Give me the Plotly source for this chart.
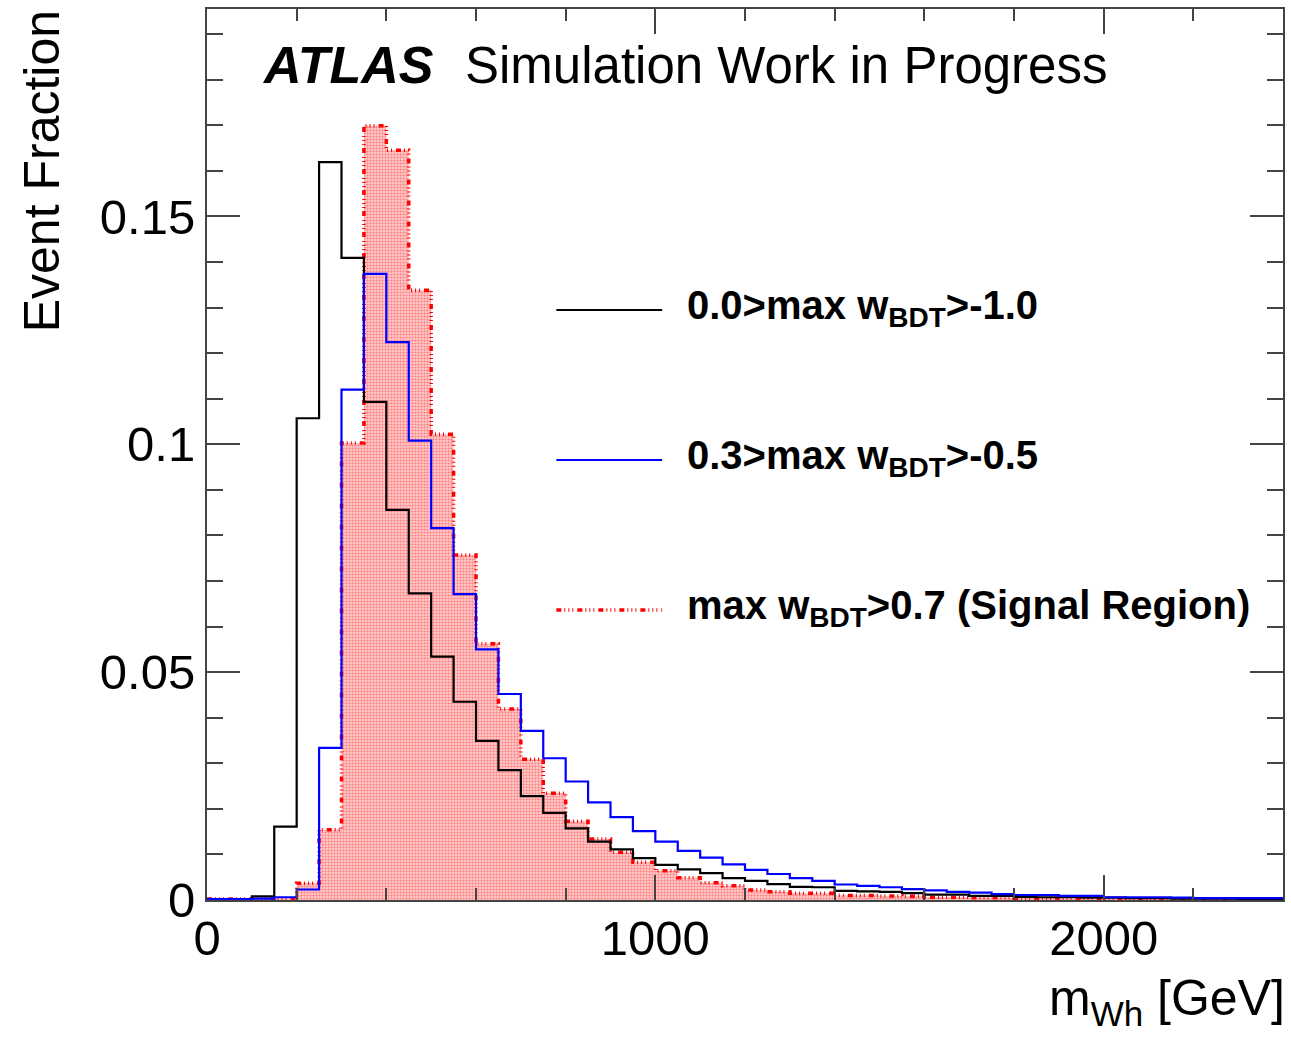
import plotly.graph_objects as go

# ---------------- data ----------------
bin_edges = [i * 50 for i in range(49)]  # 0 .. 2400 GeV, 50 GeV bins

black_vals = [0.0001, 0.0001, 0.0008, 0.0161, 0.1057, 0.1619, 0.1409, 0.1093,
              0.0856, 0.0673, 0.0534, 0.0435, 0.0349, 0.0285, 0.0228, 0.0191,
              0.0157, 0.0128, 0.0111, 0.0092, 0.0077, 0.0067, 0.0059, 0.0048,
              0.0042, 0.0035, 0.0029, 0.0028, 0.0020, 0.0019, 0.0018, 0.0015,
              0.0012, 0.0012, 0.0009, 0.0009, 0.0007, 0.0006, 0.0006, 0.0005,
              0.0005, 0.0004, 0.0004, 0.0003, 0.0003, 0.0003, 0.0002, 0.0002]

blue_vals = [0.0002, 0.0002, 0.0003, 0.0006, 0.0023, 0.0334, 0.1120, 0.1374,
             0.1224, 0.1008, 0.0816, 0.0671, 0.0550, 0.0452, 0.0371, 0.0311,
             0.0260, 0.0214, 0.0182, 0.0151, 0.0128, 0.0108, 0.0093, 0.0078,
             0.0066, 0.0057, 0.0048, 0.0042, 0.0034, 0.0031, 0.0028, 0.0024,
             0.0021, 0.0018, 0.0016, 0.0013, 0.0011, 0.0011, 0.0009, 0.0009,
             0.0006, 0.0006, 0.0006, 0.0005, 0.0004, 0.0004, 0.0004, 0.0004]

red_vals = [0.0002, 0.0002, 0.0002, 0.0003, 0.0037, 0.0154, 0.1003, 0.1699,
            0.1645, 0.1338, 0.1022, 0.0757, 0.0562, 0.0419, 0.0309, 0.0234,
            0.0173, 0.0134, 0.0105, 0.0083, 0.0064, 0.0049, 0.0038, 0.0031,
            0.0022, 0.0018, 0.0015, 0.0015, 0.0010, 0.0010, 0.0009, 0.0008,
            0.0006, 0.0006, 0.0005, 0.0005, 0.0004, 0.0004, 0.0003, 0.0003,
            0.0003, 0.0002, 0.0002, 0.0002, 0.0002, 0.0002, 0.0002, 0.0002]

legend_labels = ["0.0>max w<sub>BDT</sub>>-1.0",
                 "0.3>max w<sub>BDT</sub>>-0.5",
                 "max w<sub>BDT</sub>>0.7 (Signal Region)"]

x_range = [0, 2400]
y_range = [0, 0.1955]

# ---------------- layout geometry ----------------
W, H = 1291, 1038
L, R, T, B = 207, 6, 9, 138
PW, PH = W - L - R, H - T - B

def px(xp):
    return (xp - L) / PW

def py(yp):
    return (H - B - yp) / PH

FONT = "Liberation Sans, Arial, Helvetica, sans-serif"
RED_DASH = "5px,3px,1px,3px,1px,3px,1px,4px"

fig = go.Figure()

def step(vals):
    return vals + [vals[-1]]

# red filled histogram (signal region)
fig.add_trace(go.Scatter(
    x=bin_edges, y=step(red_vals), mode="lines", line_shape="hv",
    line=dict(color="rgba(0,0,0,0)", width=0),
    fill="tozeroy",
    fillcolor="rgba(255,170,170,1)",
    fillpattern=dict(shape=".", fgcolor="rgba(255,30,30,0.9)",
                     bgcolor="rgba(255,200,200,1)", size=3, solidity=0.4),
    hoverinfo="skip", showlegend=False))
fig.add_trace(go.Scatter(
    x=bin_edges, y=step(red_vals), mode="lines", line_shape="hv",
    line=dict(color="#ff0000", width=3.5, dash=RED_DASH),
    name=legend_labels[2], showlegend=False))
fig.add_trace(go.Scatter(
    x=bin_edges, y=step(black_vals), mode="lines", line_shape="hv",
    line=dict(color="#000000", width=2.2),
    name=legend_labels[0], showlegend=False))
fig.add_trace(go.Scatter(
    x=bin_edges, y=step(blue_vals), mode="lines", line_shape="hv",
    line=dict(color="#0000ff", width=2.2),
    name=legend_labels[1], showlegend=False))

axis_common = dict(
    showgrid=False, zeroline=False, showline=True, linecolor="#444",
    linewidth=2, mirror="allticks", ticks="inside", tickcolor="#444",
    tickwidth=1.5,
    tickfont=dict(family=FONT, size=49, color="black"),
)

fig.update_xaxes(range=x_range, tickvals=[0, 1000, 2000],
                 ticklen=25, ticklabelstandoff=-6,
                 minor=dict(ticks="inside", ticklen=12, dtick=200,
                            tick0=0, tickcolor="#444", tickwidth=1.5),
                 **axis_common)
fig.update_yaxes(range=y_range, tickvals=[0, 0.05, 0.1, 0.15],
                 ticktext=["0", "0.05", "0.1", "0.15"],
                 ticklen=33, ticklabelstandoff=0,
                 minor=dict(ticks="inside", ticklen=16, dtick=0.01,
                            tick0=0, tickcolor="#444", tickwidth=1.5),
                 **axis_common)

annotations = [
    dict(text="<b><i>ATLAS</i></b>", x=px(260), y=py(65), xanchor="left",
         yanchor="middle", font=dict(family=FONT, size=52, color="black")),
    dict(text="Simulation Work in Progress", x=px(463), y=py(65),
         xanchor="left", yanchor="middle",
         font=dict(family=FONT, size=51, color="black")),
    dict(text="m<sub>Wh</sub> [GeV]", x=px(1289), y=py(1002),
         xanchor="right", yanchor="middle",
         font=dict(family=FONT, size=50, color="black")),
    dict(text="Event Fraction", textangle=-90, x=px(42), y=py(8),
         xanchor="center", yanchor="top",
         font=dict(family=FONT, size=50, color="black")),
]

legend_y = [310, 460, 610]
legend_colors = ["#000000", "#0000ff", "#ff0000"]
legend_dash = ["solid", "solid", RED_DASH]
legend_width = [2, 2, 3.5]
shapes = []
for lab, ly, c, d, w in zip(legend_labels, legend_y, legend_colors,
                            legend_dash, legend_width):
    shapes.append(dict(type="line", xref="paper", yref="paper",
                       x0=px(557), x1=px(663), y0=py(ly), y1=py(ly),
                       line=dict(color=c, width=w, dash=d)))
    annotations.append(dict(text="<b>" + lab + "</b>", x=px(686), y=py(ly - 2),
                            xanchor="left", yanchor="middle",
                            font=dict(family=FONT, size=40, color="black")))

for a in annotations:
    a.update(xref="paper", yref="paper", showarrow=False)

fig.update_layout(
    width=W, height=H,
    margin=dict(l=L, r=R, t=T, b=B, pad=0),
    paper_bgcolor="white", plot_bgcolor="white",
    annotations=annotations, shapes=shapes,
    showlegend=False,
)

fig.write_html("out.html")
